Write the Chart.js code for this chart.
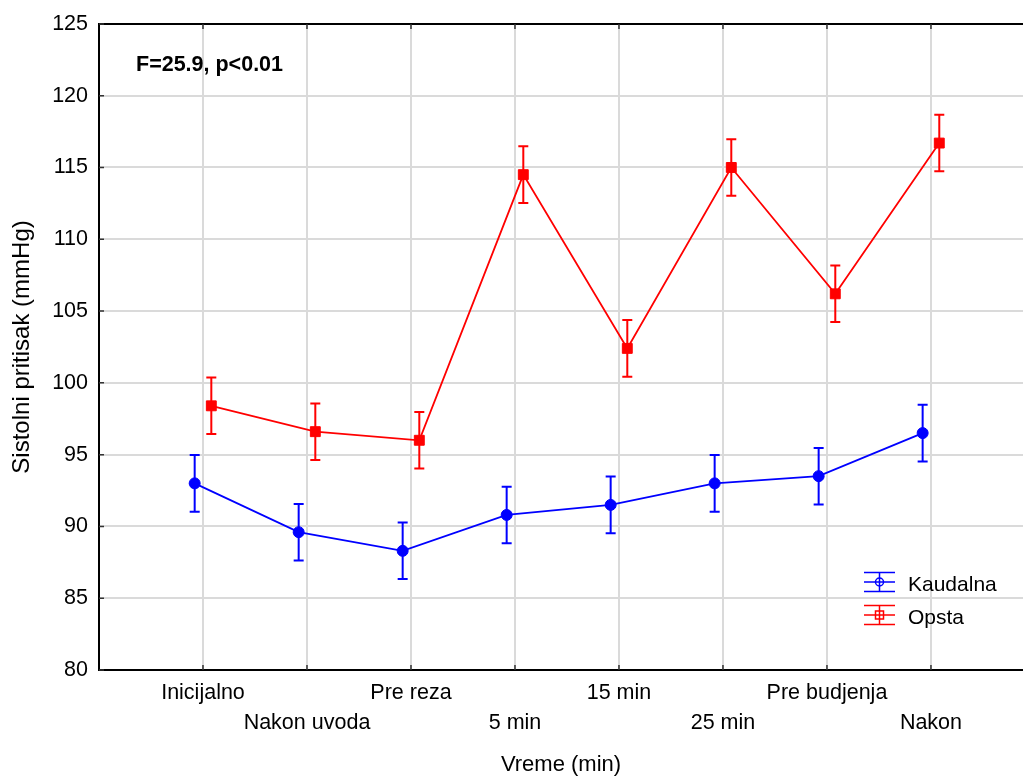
<!DOCTYPE html>
<html>
<head>
<meta charset="utf-8">
<script src="https://cdn.jsdelivr.net/npm/chart.js@4.4.1/dist/chart.umd.min.js"></script>
<style>
  html, body { margin: 0; padding: 0; background: #fff; }
  #wrap { width: 1023px; height: 776px; }
</style>
</head>
<body>
<div id="wrap"><canvas id="chart" width="1023" height="776"></canvas></div>
<script>
// time points and group means with their error half-widths
var vremeLabels = ['Inicijalno', 'Nakon uvoda', 'Pre reza', '5 min', '15 min', '25 min', 'Pre budjenja', 'Nakon'];
var kaudalnaMean = [93.0, 89.6, 88.3, 90.8, 91.5, 93.0, 93.5, 96.5];
var kaudalnaErr = [1.97, 1.97, 1.97, 1.97, 1.97, 1.97, 1.97, 1.97];
var opstaMean = [98.4, 96.6, 96.0, 114.5, 102.4, 115.0, 106.2, 116.7];
var opstaErr = [1.97, 1.97, 1.97, 1.97, 1.97, 1.97, 1.97, 1.97];
var yTicks = [80, 85, 90, 95, 100, 105, 110, 115, 120, 125];
var seriesNames = ['Kaudalna', 'Opsta'];
var statText = 'F=25.9, p<0.01';

var fontFam = '"Liberation Sans", Arial, sans-serif';
var blue = '#0000ff';
var red = '#ff0000';
var gridColor = '#dadada';
var shift = 0.08;

function toPoints(means, errs, dx) {
    var pts = [];
    for (var i = 0; i < means.length; i++) {
        pts.push({ x: i + dx, y: means[i], err: errs[i] });
    }
    return pts;
}

// error bars under the lines and markers
var errorBars = {
    id: 'errorBars',
    beforeDatasetsDraw: function(chart) {
        var ctx = chart.ctx;
        var xs = chart.scales.x, ys = chart.scales.y;
        chart.data.datasets.forEach(function(ds) {
            ctx.save();
            ctx.strokeStyle = ds.borderColor;
            ctx.lineWidth = 2;
            ds.data.forEach(function(p) {
                var px = xs.getPixelForValue(p.x);
                var top = ys.getPixelForValue(p.y + p.err);
                var bot = ys.getPixelForValue(p.y - p.err);
                ctx.beginPath();
                ctx.moveTo(px, top); ctx.lineTo(px, bot);
                ctx.moveTo(px - 5, top); ctx.lineTo(px + 5, top);
                ctx.moveTo(px - 5, bot); ctx.lineTo(px + 5, bot);
                ctx.stroke();
            });
            ctx.restore();
        });
    }
};

// top frame line, inward tick marks, stat text and the legend
var extras = {
    id: 'extras',
    afterDraw: function(chart) {
        var ctx = chart.ctx;
        var a = chart.chartArea;
        var xs = chart.scales.x, ys = chart.scales.y;
        ctx.save();
        ctx.strokeStyle = '#000';
        ctx.lineWidth = 2;
        ctx.beginPath();
        ctx.moveTo(a.left - 1, a.top); ctx.lineTo(a.right, a.top);
        ctx.stroke();

        ctx.strokeStyle = '#333';
        ctx.lineWidth = 1.5;
        ctx.beginPath();
        yTicks.forEach(function(v) {
            var py = ys.getPixelForValue(v);
            ctx.moveTo(a.left, py); ctx.lineTo(a.left + 5, py);
        });
        vremeLabels.forEach(function(l, i) {
            var px = xs.getPixelForValue(i);
            ctx.moveTo(px, a.bottom); ctx.lineTo(px, a.bottom - 5);
            ctx.moveTo(px, a.top); ctx.lineTo(px, a.top + 5);
        });
        ctx.stroke();

        ctx.fillStyle = '#000';
        ctx.font = 'bold 21.5px ' + fontFam;
        ctx.textBaseline = 'alphabetic';
        ctx.textAlign = 'left';
        ctx.fillText(statText, 136, 71);

        // legend entries with error-bar icons
        var items = [
            { name: seriesNames[0], color: blue, shape: 'circle', cy: 582 },
            { name: seriesNames[1], color: red, shape: 'rect', cy: 615 }
        ];
        items.forEach(function(it) {
            var x0 = 864, x1 = 895, xm = (x0 + x1) / 2;
            ctx.strokeStyle = it.color;
            ctx.lineWidth = 1.5;
            ctx.beginPath();
            ctx.moveTo(x0, it.cy - 9.5); ctx.lineTo(x1, it.cy - 9.5);
            ctx.moveTo(x0, it.cy); ctx.lineTo(x1, it.cy);
            ctx.moveTo(x0, it.cy + 9.5); ctx.lineTo(x1, it.cy + 9.5);
            ctx.moveTo(xm, it.cy - 9.5); ctx.lineTo(xm, it.cy + 9.5);
            ctx.stroke();
            ctx.beginPath();
            if (it.shape === 'circle') {
                ctx.arc(xm, it.cy, 4, 0, Math.PI * 2);
            } else {
                ctx.rect(xm - 4, it.cy - 4, 8, 8);
            }
            ctx.stroke();
            ctx.fillStyle = '#000';
            ctx.font = '21px ' + fontFam;
            ctx.textBaseline = 'middle';
            ctx.fillText(it.name, 908, it.cy + 3);
        });
        ctx.restore();
    }
};

var ctx = document.getElementById('chart').getContext('2d');
var myChart = new Chart(ctx, {
    type: 'line',
    data: {
        datasets: [{
            label: seriesNames[0],
            data: toPoints(kaudalnaMean, kaudalnaErr, -shift),
            borderColor: blue,
            backgroundColor: blue,
            borderWidth: 1.8,
            pointStyle: 'circle',
            pointRadius: 5.5,
            pointBorderWidth: 1,
            tension: 0
        }, {
            label: seriesNames[1],
            data: toPoints(opstaMean, opstaErr, shift),
            borderColor: red,
            backgroundColor: red,
            borderWidth: 1.8,
            pointStyle: 'rect',
            pointRadius: 7,
            pointBorderWidth: 1,
            tension: 0
        }]
    },
    options: {
        responsive: false,
        animation: false,
        events: [],
        layout: { autoPadding: false, padding: { top: 22, right: 0, bottom: 0, left: 0 } },
        plugins: {
            legend: { display: false },
            tooltip: { enabled: false }
        },
        scales: {
            x: {
                type: 'linear',
                min: -1,
                max: 7.885,
                afterBuildTicks: function(scale) {
                    scale.ticks = vremeLabels.map(function(l, i) { return { value: i }; });
                },
                afterFit: function(scale) {
                    scale.height = 106;
                    scale.paddingLeft = 0;
                    scale.paddingRight = 0;
                },
                grid: { color: gridColor, lineWidth: 2, drawTicks: false },
                border: { color: '#000', width: 2 },
                ticks: {
                    autoSkip: false,
                    maxRotation: 0,
                    padding: 8,
                    color: '#000',
                    font: { family: fontFam, size: 21.5, lineHeight: 1.4 },
                    callback: function(value) {
                        var l = vremeLabels[value];
                        return value % 2 === 0 ? [l, ''] : ['', l];
                    }
                },
                title: {
                    display: true,
                    text: 'Vreme (min)',
                    color: '#000',
                    font: { family: fontFam, size: 22, lineHeight: 1.0 },
                    padding: { top: 0, bottom: 0 }
                }
            },
            y: {
                min: 80,
                max: 125,
                afterBuildTicks: function(scale) {
                    scale.ticks = yTicks.map(function(v) { return { value: v }; });
                },
                afterFit: function(scale) { scale.width = 99; },
                grid: { color: gridColor, lineWidth: 2, drawTicks: false },
                border: { color: '#000', width: 2 },
                ticks: {
                    padding: 11,
                    color: '#000',
                    font: { family: fontFam, size: 21.5 }
                },
                title: {
                    display: true,
                    text: 'Sistolni pritisak (mmHg)',
                    color: '#000',
                    font: { family: fontFam, size: 24, lineHeight: 1.0 },
                    padding: { top: 10, bottom: 0 }
                }
            }
        }
    },
    plugins: [errorBars, extras]
});
</script>
</body>
</html>
